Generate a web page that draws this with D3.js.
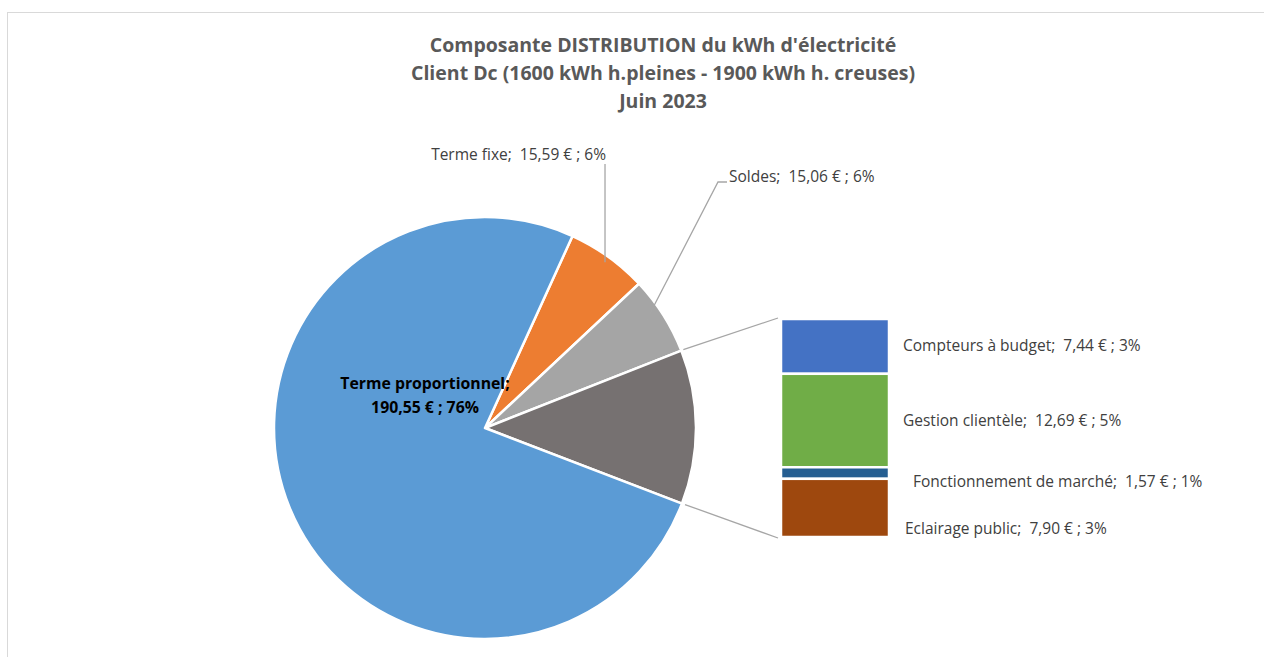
<!DOCTYPE html>
<html>
<head>
<meta charset="utf-8">
<script src="https://cdn.jsdelivr.net/npm/d3@7"></script>
<style>
  body { margin: 0; background: #fff; }
  svg { display: block; }
  text { white-space: pre; }
</style>
</head>
<body>
<div id="chart"></div>
<script>
// data
var titleLines = ["Composante DISTRIBUTION du kWh d'électricité",
                  "Client Dc (1600 kWh h.pleines - 1900 kWh h. creuses)",
                  "Juin 2023"];
var pieNames  = ["Terme fixe", "Soldes", "Autres", "Terme proportionnel"];
var pieValues = [15.59, 15.06, null, 190.55];
var barNames  = ["Compteurs à budget", "Gestion clientèle", "Fonctionnement de marché", "Eclairage public"];
var barValues = [7.44, 12.69, 1.57, 7.90];
var pieColors = ["#ED7D31", "#A5A5A5", "#767171", "#5B9BD5"];
var barColors = ["#4472C4", "#70AD47", "#255E91", "#9E480E"];

var width = 1264, height = 657;
var font = "'Open Sans', sans-serif";

var otherTotal = d3.sum(barValues);
pieValues[2] = otherTotal;
var total = d3.sum(pieValues);

function fmt(v) { return d3.format(".2f")(v).replace(".", ","); }
function pct(v) { return Math.round(v / total * 100) + "%"; }

var svg = d3.select("#chart").append("svg")
    .attr("width", width)
    .attr("height", height);

// chart frame
svg.append("rect")
    .attr("x", 7.5).attr("y", 12.5)
    .attr("width", 1270).attr("height", 660)
    .attr("fill", "#fff")
    .attr("stroke", "#D9D9D9");

// title
svg.append("g").selectAll("text")
    .data(titleLines)
  .enter().append("text")
    .attr("x", 663)
    .attr("y", function(d, i) { return 52 + i * 28; })
    .attr("text-anchor", "middle")
    .style("font-family", font)
    .style("font-weight", "bold")
    .style("font-size", "19.5px")
    .style("fill", "#595959")
    .text(function(d) { return d; });

// pie
var cx = 485, cy = 428, radius = 211;
var start = 24.5 * Math.PI / 180;
var pie = d3.pie().sort(null)
    .startAngle(start).endAngle(start + 2 * Math.PI);
var arcs = pie(pieValues);
var arc = d3.arc().innerRadius(0).outerRadius(radius);

var g = svg.append("g").attr("transform", "translate(" + cx + "," + cy + ")");
g.selectAll("path")
    .data(arcs)
  .enter().append("path")
    .attr("d", arc)
    .attr("fill", function(d, i) { return pieColors[i]; })
    .attr("stroke", "#fff")
    .attr("stroke-width", 2.5)
    .attr("stroke-linejoin", "round");

// bar of the "Autres" slice
var barX = 781, barW = 108;
var y = d3.scaleLinear().domain([0, otherTotal]).range([319, 537]);
var cum = 0;
var barData = barValues.map(function(v, i) {
  var d = { name: barNames[i], value: v, y0: cum, y1: cum + v };
  cum += v;
  return d;
});

svg.append("g").selectAll("rect")
    .data(barData)
  .enter().append("rect")
    .attr("x", barX)
    .attr("y", function(d) { return y(d.y0); })
    .attr("width", barW)
    .attr("height", function(d) { return y(d.y1) - y(d.y0); })
    .attr("fill", function(d, i) { return barColors[i]; })
    .attr("stroke", "#fff")
    .attr("stroke-width", 2.5);

// connector lines between slice and bar
var other = arcs[2];
function onCircle(a, r) { return [cx + r * Math.sin(a), cy - r * Math.cos(a)]; }
var p0 = onCircle(other.startAngle, radius), p1 = onCircle(other.endAngle, radius);
svg.append("line")
    .attr("x1", p0[0] + 2).attr("y1", p0[1] - 1)
    .attr("x2", barX - 3).attr("y2", y(0) - 1)
    .attr("stroke", "#A6A6A6").attr("stroke-width", 1.3);
svg.append("line")
    .attr("x1", p1[0] + 3).attr("y1", p1[1] + 1)
    .attr("x2", barX - 3).attr("y2", y(otherTotal) + 1)
    .attr("stroke", "#A6A6A6").attr("stroke-width", 1.3);

// pie labels
var labelStyle = function(sel) {
  sel.style("font-family", font).style("font-size", "15.5px").style("fill", "#404040");
};

// Terme fixe
var mFixe = onCircle((arcs[0].startAngle + arcs[0].endAngle) / 2, radius - 7);
svg.append("line")
    .attr("x1", mFixe[0] + 1).attr("y1", mFixe[1])
    .attr("x2", mFixe[0] + 1).attr("y2", 164)
    .attr("stroke", "#A6A6A6").attr("stroke-width", 1.3);
svg.append("text")
    .attr("x", 606).attr("y", 160)
    .attr("text-anchor", "end")
    .call(labelStyle)
    .text(pieNames[0] + ";  " + fmt(pieValues[0]) + " € ; " + pct(pieValues[0]));

// Soldes
var mSol = onCircle((arcs[1].startAngle + arcs[1].endAngle) / 2, radius - 25);
svg.append("polyline")
    .attr("points", [mSol, [718, 182], [727, 182]].map(function(p) { return p.join(","); }).join(" "))
    .attr("fill", "none")
    .attr("stroke", "#A6A6A6").attr("stroke-width", 1.3);
svg.append("text")
    .attr("x", 729).attr("y", 182)
    .call(labelStyle)
    .text(pieNames[1] + ";  " + fmt(pieValues[1]) + " € ; " + pct(pieValues[1]));

// Terme proportionnel (inside)
var tp = svg.append("text")
    .attr("x", 425).attr("y", 389)
    .attr("text-anchor", "middle")
    .style("font-family", font)
    .style("font-weight", "bold")
    .style("font-size", "15.8px")
    .style("fill", "#000");
tp.append("tspan").attr("x", 425).text(pieNames[3] + ";");
tp.append("tspan").attr("x", 425).attr("dy", 24)
    .text(fmt(pieValues[3]) + " € ; " + pct(pieValues[3]));

// bar labels
var labelShift = [[903, 5], [903, 5], [913, 14], [905, 26]];
svg.append("g").selectAll("text")
    .data(barData)
  .enter().append("text")
    .attr("x", function(d, i) { return labelShift[i][0]; })
    .attr("y", function(d, i) { return (y(d.y0) + y(d.y1)) / 2 + labelShift[i][1]; })
    .call(labelStyle)
    .text(function(d) { return d.name + ";  " + fmt(d.value) + " € ; " + pct(d.value); });
</script>
</body>
</html>
